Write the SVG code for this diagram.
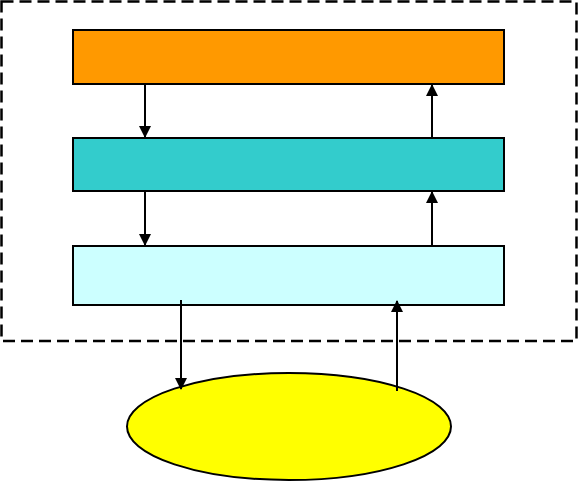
<svg xmlns="http://www.w3.org/2000/svg" width="578" height="482" viewBox="0 0 578 482">
<style>
.box{stroke:#000;stroke-width:2}
.conn{stroke:#000;stroke-width:2;fill:none}
</style>
<defs>
<marker id="ah" markerWidth="12" markerHeight="12" refX="11" refY="6" orient="auto" markerUnits="userSpaceOnUse">
<path d="M0,0 L12,6 L0,12 Z" fill="#000"/>
</marker>
</defs>
<rect x="1.5" y="1.5" width="575" height="339.5" fill="none" stroke="#000" stroke-width="2.5" stroke-dasharray="12,6"/>
<g id="orange"><rect class="box" x="73" y="30" width="431" height="54" fill="#FF9900"/></g>
<g id="teal"><rect class="box" x="73" y="138" width="431" height="53" fill="#33CCCC"/></g>
<g id="lightcyan"><rect class="box" x="73" y="246" width="431" height="59" fill="#CCFFFF"/></g>
<g id="ellipse"><ellipse class="box" cx="289" cy="426.5" rx="162" ry="53.5" fill="#FFFF00" stroke-width="1.5"/></g>
<g id="connectors">
<line class="conn" x1="145" y1="84" x2="145" y2="137" marker-end="url(#ah)"/>
<line class="conn" x1="432" y1="138" x2="432" y2="85" marker-end="url(#ah)"/>
<line class="conn" x1="145" y1="191" x2="145" y2="245" marker-end="url(#ah)"/>
<line class="conn" x1="432" y1="246" x2="432" y2="192" marker-end="url(#ah)"/>
<line class="conn" x1="181" y1="300" x2="181" y2="389" marker-end="url(#ah)"/>
<line class="conn" x1="397" y1="391" x2="397" y2="301" marker-end="url(#ah)"/>
</g>
</svg>
